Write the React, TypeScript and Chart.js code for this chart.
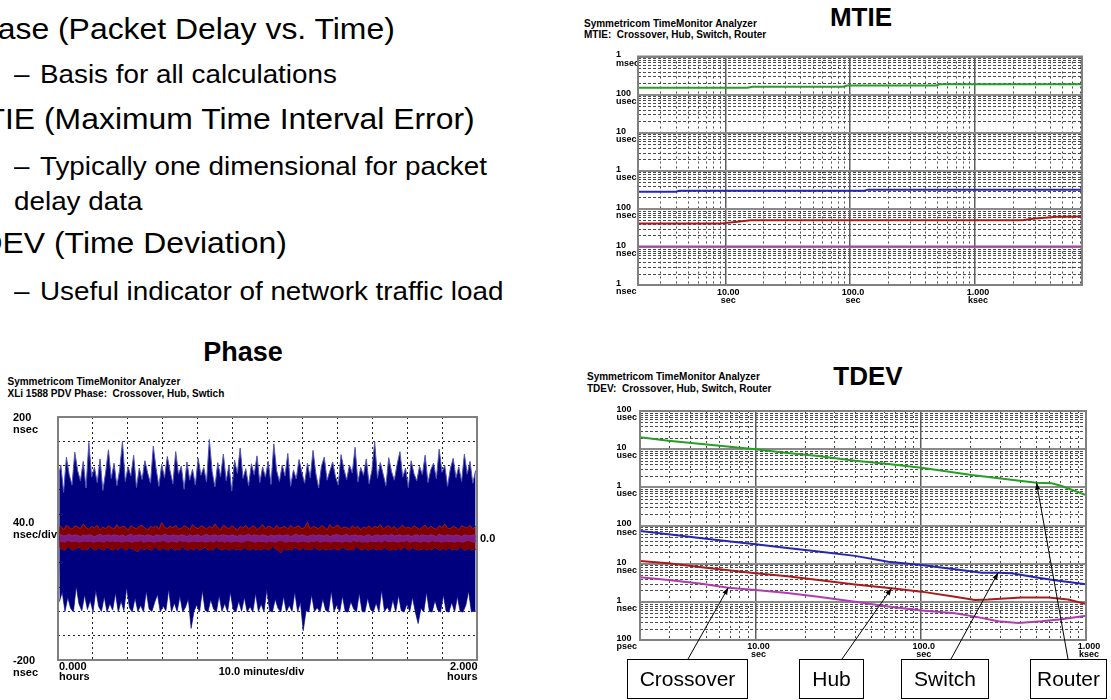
import React, { useEffect, useRef } from "react";
import { Chart, registerables } from "chart.js";

Chart.register(...registerables);

const FONT = '"Liberation Sans", Arial, Helvetica, sans-serif';

// ---------- Phase: packet delay vs. time (ns), samples spread evenly over 2 hours ----------
// Each series alternates a local high and a local low sample.
const phaseSpanMinutes = 120;
const phaseMinutesPerDiv = 10;
const phaseNsPerDiv = 40;
const phaseRangeNs = 200;

const phaseSwitchNs = [
  98, -104, 121, -88, 76, -120, 134, -97, 105, -115, 88, -121, 142, -79, 112, -108, 95, -119, 127, -93,
  83, -117, 158, -102, 101, -121, 117, -85, 92, -112, 131, -120, 79, -96, 109, -121, 146, -107, 99, -118,
  124, -90, 87, -121, 113, -103, 160, -119, 94, -81, 118, -114, 103, -121, 137, -98, 84, -120, 116, -110,
  97, -121, 128, -87, 108, -116, 91, -120, 152, -105, 115, -92, 86, -121, 122, -111, 100, -119, 135, -84,
  111, -121, 90, -106, 143, -120, 106, -95, 119, -121, 81, -113, 126, -99, 96, -148, 114, -120, 88, -109,
  132, -121, 104, -86, 117, -118, 93, -121, 163, -101, 110, -116, 85, -121, 125, -94, 102, -120, 139, -107,
  95, -121, 120, -89, 78, -117, 129, -121, 107, -103, 149, -120, 99, -97, 115, -121, 87, -112, 123, -121,
  105, -91, 136, -120, 92, -108, 118, -121, 101, -84, 127, -119, 89, -121, 156, -100, 112, -115, 94, -121,
  121, -96, 103, -121, 140, -110, 86, -120, 113, -88, 98, -121, 130, -105, 109, -152, 91, -119, 124, -121,
  100, -93, 145, -120, 107, -114, 83, -121, 119, -99, 134, -118, 96, -121, 111, -87, 126, -120, 102, -109,
  88, -121, 138, -95, 114, -120, 97, -121, 121, -104, 108, -116, 150, -121, 93, -90, 117, -120, 104, -121,
  131, -98, 90, -117, 112, -121, 159, -106, 99, -121, 125, -85, 106, -120, 87, -113, 133, -121, 110, -101,
  96, -121, 122, -94, 143, -119, 101, -121, 116, -108, 84, -120, 128, -97, 107, -121, 95, -140, 119, -115,
  105, -121, 137, -89, 92, -120, 113, -121, 124, -102, 98, -118, 147, -121, 109, -93, 120, -120, 86, -121,
  115, -105, 132, -121, 100, -96, 118, -120, 94, -121, 139, -110, 106, -87, 127, -121, 91, -119, 112, -121,
];

const phaseHubNs = [
  17, -15, 20, -18, 14, -19, 22, -13, 18, -17, 15, -19, 21, -16, 19, -14, 16, -19, 24, -17,
  18, -19, 15, -12, 20, -18, 17, -19, 22, -15, 14, -18, 19, -19, 16, -14, 21, -17, 18, -19,
  15, -16, 23, -19, 17, -13, 20, -18, 19, -19, 13, -15, 21, -17, 18, -19, 16, -22, 20, -14,
  22, -19, 17, -16, 14, -18, 20, -19, 18, -13, 21, -17, 15, -19, 26, -15, 19, -18, 16, -19,
  20, -14, 18, -19, 22, -17, 15, -19, 17, -12, 21, -18, 19, -19, 14, -16, 23, -19, 18, -15,
  16, -19, 21, -17, 19, -14, 15, -19, 20, -18, 17, -19, 24, -13, 18, -17, 14, -19, 22, -16,
  19, -18, 16, -19, 21, -15, 18, -19, 13, -17, 20, -19, 17, -14, 22, -18, 15, -19, 19, -16,
  21, -19, 14, -17, 18, -19, 23, -15, 16, -18, 20, -19, 19, -13, 15, -17, 22, -19, 17, -24,
  18, -16, 20, -19, 15, -18, 22, -19, 17, -14, 19, -17, 21, -19, 16, -15, 18, -19, 27, -17,
  15, -19, 20, -13, 18, -18, 16, -19, 21, -16, 19, -19, 14, -17, 23, -19, 17, -15, 20, -18,
  22, -19, 16, -14, 19, -17, 18, -19, 15, -18, 21, -19, 17, -13, 20, -17, 14, -19, 19, -16,
  17, -19, 21, -18, 16, -15, 20, -19, 18, -17, 23, -19, 15, -14, 19, -18, 21, -19, 16, -17,
  20, -19, 14, -16, 18, -19, 22, -13, 17, -18, 19, -19, 16, -15, 21, -17, 18, -19, 15, -18,
  19, -16, 22, -19, 16, -17, 20, -19, 17, -14, 15, -18, 21, -19, 18, -16, 24, -19, 17, -15,
  16, -19, 20, -17, 18, -19, 14, -13, 21, -18, 19, -19, 17, -16, 22, -19, 15, -17, 20, -19,
];

const phaseCrossoverNs = [
  5, -4, 6, -5, 4, -6, 5, -3, 7, -5, 4, -5, 6, -4, 5, -6, 3, -5, 6, -4,
  4, -5, 6, -4, 5, -6, 3, -5, 5, -4, 7, -5, 4, -6, 5, -3, 6, -5, 4, -4,
  6, -5, 5, -4, 4, -6, 6, -5, 3, -4, 5, -5, 7, -6, 4, -4, 5, -5, 6, -3,
  5, -6, 4, -5, 6, -4, 5, -5, 3, -6, 6, -4, 5, -5, 4, -3, 7, -5, 5, -6,
  4, -4, 6, -5, 5, -6, 4, -3, 6, -5, 5, -4, 3, -6, 6, -5, 4, -4, 5, -5,
  6, -5, 3, -4, 5, -6, 7, -5, 4, -4, 5, -6, 6, -3, 4, -5, 5, -4, 6, -6,
  5, -4, 4, -6, 6, -5, 5, -4, 3, -5, 6, -6, 4, -5, 5, -3, 7, -4, 4, -5,
  6, -6, 5, -4, 4, -5, 6, -5, 5, -6, 3, -4, 6, -5, 4, -6, 5, -4, 6, -3,
  4, -5, 5, -6, 6, -4, 3, -5, 5, -4, 7, -6, 4, -5, 6, -4, 5, -5, 3, -6,
  5, -4, 6, -5, 4, -3, 6, -6, 5, -5, 4, -4, 6, -5, 3, -6, 5, -4, 6, -5,
  6, -5, 4, -6, 5, -4, 7, -5, 4, -6, 5, -3, 6, -5, 4, -4, 5, -6, 3, -5,
  5, -6, 6, -4, 3, -5, 5, -5, 6, -4, 4, -6, 5, -3, 6, -5, 4, -5, 7, -4,
  4, -5, 5, -6, 6, -4, 4, -5, 5, -3, 6, -6, 3, -5, 5, -4, 6, -5, 4, -6,
  6, -4, 5, -5, 4, -6, 6, -3, 5, -5, 3, -4, 7, -6, 5, -5, 4, -4, 6, -5,
  5, -5, 4, -6, 6, -4, 5, -5, 3, -6, 6, -4, 5, -3, 4, -5, 6, -6, 5, -4,
];

const phaseYLabels = [["200", "nsec"], ["40.0", "nsec/div"], ["-200", "nsec"]];
const phaseXLabels = [["0.000", "hours"], ["10.0 minutes/div"], ["2.000", "hours"]];
const phaseRightLabel = "0.0";

// ---------- MTIE (tau in seconds, MTIE in ns) ----------
const mtieRouterTau = [2, 15, 16.5, 88, 95, 490, 520, 7200];
const mtieRouterNs = [152000, 152000, 161000, 161000, 174000, 174000, 186000, 186000];
const mtieSwitchTau = [2, 4, 4.3, 130, 140, 7200];
const mtieSwitchNs = [283, 283, 300, 300, 319, 319];
const mtieHubTau = [2, 9, 12, 16, 2400, 2900, 4500, 7200];
const mtieHubNs = [40.9, 40.9, 45, 50.5, 50.5, 55, 62, 63];
const mtieCrossoverTau = [2, 7200];
const mtieCrossoverNs = [10.2, 10.2];

const mtieTauRange = [2, 7200];
const mtieNsRange = [1, 1e6];
const mtieYTicks = [1, 10, 100, 1e3, 1e4, 1e5, 1e6];
const mtieYLabels = [
  ["1", "nsec"], ["10", "nsec"], ["100", "nsec"], ["1", "usec"], ["10", "usec"], ["100", "usec"], ["1", "msec"],
];

// ---------- TDEV (tau in seconds, TDEV in ns) ----------
const tdevRouterTau = [2, 2.97, 4.73, 7.51, 10, 15.1, 24, 40, 63.6, 101, 203, 408, 502, 620, 712, 1000];
const tdevRouterNs = [20500, 16700, 13600, 11200, 9900, 8070, 6620, 5000, 4090, 3270, 2100, 1470, 1320, 1280, 1080, 630];
const tdevSwitchTau = [2, 2.97, 4.73, 7.51, 10, 15.1, 24, 40, 63.6, 101, 161, 234, 294, 355, 514, 648, 1000];
const tdevSwitchNs = [71.8, 58.8, 46.2, 37, 32.2, 26.3, 20.7, 16, 11.3, 9.2, 7.1, 5.8, 5.8, 5.6, 4.3, 3.7, 2.9];
const tdevHubTau = [2, 2.97, 4.73, 7.51, 10, 15.1, 24, 40, 66.6, 101, 161, 213, 256, 408, 590, 780, 1000];
const tdevHubNs = [11.8, 10.2, 8.0, 6.4, 5.6, 4.75, 3.73, 2.85, 2.26, 1.85, 1.36, 1.12, 1.15, 1.29, 1.29, 1.15, 0.88];
const tdevCrossoverTau = [2, 2.97, 4.73, 6.84, 10, 15.1, 24, 40, 63.6, 101, 161, 213, 294, 389, 538, 711, 1000];
const tdevCrossoverNs = [4.4, 3.73, 2.99, 2.35, 2.04, 1.74, 1.36, 1.0, 0.75, 0.59, 0.5, 0.41, 0.31, 0.28, 0.31, 0.35, 0.43];

const tdevTauRange = [2, 1000];
const tdevNsRange = [0.1, 1e5];
const tdevYTicks = [0.1, 1, 10, 100, 1e3, 1e4, 1e5];
const tdevYLabels = [
  ["100", "psec"], ["1", "nsec"], ["10", "nsec"], ["100", "nsec"], ["1", "usec"], ["10", "usec"], ["100", "usec"],
];

const logXTicks = [10, 100, 1000];
const logXLabels = [["10.00", "sec"], ["100.0", "sec"], ["1.000", "ksec"]];

const seriesColors: Record<string, string> = {
  Router: "#25a025",
  Switch: "#2626b2",
  Hub: "#a81c1c",
  Crossover: "#b03db0",
};

// Callout boxes under the TDEV plot (canvas pixels), each pointing at one point of a series
const tdevCallouts = [
  { label: "Crossover", series: "Crossover", point: 3, box: [47, 299, 168, 339], fromX: 108 },
  { label: "Hub", series: "Hub", point: 8, box: [219, 299, 284, 339], fromX: 262 },
  { label: "Switch", series: "Switch", point: 12, box: [321, 299, 409, 339], fromX: 371 },
  { label: "Router", series: "Router", point: 12, box: [450, 299, 527, 339], fromX: 488 },
];

const outline = [
  { lead: "Phase", text: "(Packet Delay vs. Time)", x: 58, baseline: 39.5 },
  { dash: true, text: "Basis for all calculations", x: 40, baseline: 83.5 },
  { lead: "MTIE", text: "(Maximum Time Interval Error)", x: 44, baseline: 130 },
  { dash: true, text: "Typically one dimensional for packet", x: 40, baseline: 175.5 },
  { text: "delay data", x: 14, baseline: 210 },
  { lead: "TDEV", text: "(Time Deviation)", x: 54, baseline: 254 },
  { dash: true, text: "Useful indicator of network traffic load", x: 40, baseline: 300 },
];

// ---------- plugins ----------
const framePlugin = {
  id: "frame",
  afterDraw(chart: any, _args: any, opts: any) {
    const { ctx, chartArea: a } = chart;
    ctx.save();
    ctx.strokeStyle = opts.color || "#7f7f7f";
    ctx.lineWidth = opts.width || 2;
    ctx.strokeRect(a.left, a.top, a.right - a.left, a.bottom - a.top);
    ctx.restore();
  },
};

function minorValues(min: number, max: number) {
  const out: number[] = [];
  for (let e = Math.floor(Math.log10(min)); e <= Math.ceil(Math.log10(max)); e++) {
    for (let k = 2; k <= 9; k++) {
      const v = k * Math.pow(10, e);
      if (v > min * 1.0001 && v < max * 0.9999) out.push(v);
    }
  }
  return out;
}

const minorLogGridPlugin = {
  id: "minorLogGrid",
  beforeDraw(chart: any) {
    const { ctx, chartArea: a, scales } = chart;
    const xs = scales.x;
    const ys = scales.y;
    ctx.save();
    ctx.beginPath();
    ctx.rect(a.left, a.top, a.right - a.left, a.bottom - a.top);
    ctx.clip();
    ctx.strokeStyle = "#4a4a4a";
    ctx.lineWidth = 1;
    ctx.setLineDash([2, 3]);
    for (const v of minorValues(xs.min, xs.max)) {
      const px = Math.round(xs.getPixelForValue(v)) + 0.5;
      ctx.beginPath();
      ctx.moveTo(px, a.top);
      ctx.lineTo(px, a.bottom);
      ctx.stroke();
    }
    ctx.setLineDash([3, 2]);
    for (const v of minorValues(ys.min, ys.max)) {
      const py = Math.round(ys.getPixelForValue(v)) + 0.5;
      ctx.beginPath();
      ctx.moveTo(a.left, py);
      ctx.lineTo(a.right, py);
      ctx.stroke();
    }
    ctx.restore();
  },
};

const phaseTextPlugin = {
  id: "phaseText",
  afterDraw(chart: any) {
    const { ctx, chartArea: a, scales } = chart;
    const xs = scales.x;
    const ys = scales.y;
    const top = ys.getPixelForValue(phaseRangeNs);
    const mid = ys.getPixelForValue(0);
    const bot = ys.getPixelForValue(-phaseRangeNs);
    ctx.save();
    ctx.fillStyle = "#000";
    ctx.font = `bold 11px ${FONT}`;
    ctx.textBaseline = "middle";
    ctx.textAlign = "left";
    const lx = 13;
    ctx.fillText(phaseYLabels[0][0], lx, top + 1);
    ctx.fillText(phaseYLabels[0][1], lx, top + 12.5);
    ctx.fillText(phaseYLabels[1][0], lx, mid - 15.5);
    ctx.fillText(phaseYLabels[1][1], lx, mid - 3.5);
    ctx.fillText(phaseYLabels[2][0], lx, bot + 1);
    ctx.fillText(phaseYLabels[2][1], lx, bot + 13);
    ctx.fillText(phaseRightLabel, a.right + 3, mid);

    const x0 = xs.getPixelForValue(0);
    const xMid = xs.getPixelForValue(phaseSpanMinutes / 2);
    const x1 = xs.getPixelForValue(phaseSpanMinutes);
    ctx.fillText(phaseXLabels[0][0], x0 + 1, a.bottom + 7);
    ctx.fillText(phaseXLabels[0][1], x0 + 1, a.bottom + 17);
    ctx.textAlign = "center";
    ctx.fillText(phaseXLabels[1][0], xMid - 6, a.bottom + 12);
    ctx.textAlign = "right";
    ctx.fillText(phaseXLabels[2][0], x1 + 0.5, a.bottom + 7);
    ctx.fillText(phaseXLabels[2][1], x1 + 0.5, a.bottom + 17);
    ctx.restore();
  },
};

const calloutPlugin = {
  id: "callouts",
  afterDraw(chart: any, _args: any, opts: any) {
    const { ctx, scales } = chart;
    const xs = scales.x;
    const ys = scales.y;
    ctx.save();
    for (const c of opts.items || []) {
      const ds = chart.data.datasets.find((d: any) => d.label === c.series);
      if (!ds) continue;
      const pt = ds.data[c.point];
      const tx = xs.getPixelForValue(pt.x);
      const ty = ys.getPixelForValue(pt.y);
      const [bx0, by0, bx1, by1] = c.box;
      const fx = c.fromX;
      const fy = by0;
      ctx.strokeStyle = "#000";
      ctx.lineWidth = 1;
      ctx.setLineDash([]);
      ctx.beginPath();
      ctx.moveTo(fx, fy);
      ctx.lineTo(tx, ty);
      ctx.stroke();
      const ang = Math.atan2(ty - fy, tx - fx);
      const len = 7;
      const half = 2.6;
      ctx.fillStyle = "#000";
      ctx.beginPath();
      ctx.moveTo(tx, ty);
      ctx.lineTo(tx - len * Math.cos(ang) + half * Math.sin(ang), ty - len * Math.sin(ang) - half * Math.cos(ang));
      ctx.lineTo(tx - len * Math.cos(ang) - half * Math.sin(ang), ty - len * Math.sin(ang) + half * Math.cos(ang));
      ctx.closePath();
      ctx.fill();
      ctx.fillStyle = "#fff";
      ctx.fillRect(bx0, by0, bx1 - bx0, by1 - by0);
      ctx.strokeRect(bx0 + 0.5, by0 + 0.5, bx1 - bx0 - 1, by1 - by0 - 1);
      ctx.fillStyle = "#000";
      ctx.font = `21px ${FONT}`;
      ctx.textAlign = "center";
      ctx.textBaseline = "middle";
      ctx.fillText(c.label, (bx0 + bx1) / 2, (by0 + by1) / 2 + 1);
    }
    ctx.restore();
  },
};

// ---------- config builders ----------
const toPhasePoints = (values: number[]) =>
  values.map((v, i) => ({ x: (i * phaseSpanMinutes) / (values.length - 1), y: v }));

function phaseConfig(): any {
  // each series is drawn as the band between its high samples and its low samples
  const band = (label: string, values: number[], fillColor: string, edgeColor: string) => {
    const pts = toPhasePoints(values);
    const common = {
      borderColor: edgeColor,
      borderWidth: 1,
      borderJoinStyle: "bevel",
      pointRadius: 0,
      tension: 0,
    };
    return [
      { ...common, label: label + " high", data: pts.filter((_, i) => i % 2 === 0), fill: "+1", backgroundColor: fillColor },
      { ...common, label: label + " low", data: pts.filter((_, i) => i % 2 === 1), fill: false },
    ];
  };
  const dotted = { display: false, dash: [2, 3] };
  return {
    type: "line",
    data: {
      datasets: [
        ...band("Crossover", phaseCrossoverNs, "#7e1a80", "#8a2a8c"),
        ...band("Hub", phaseHubNs, "#800000", "#952020"),
        ...band("Switch", phaseSwitchNs, "#00007f", "#5454b4"),
      ],
    },
    options: {
      animation: false,
      responsive: false,
      devicePixelRatio: 1,
      events: [],
      layout: { padding: { left: 58, top: 17, right: 68, bottom: 40 } },
      plugins: {
        legend: { display: false },
        tooltip: { enabled: false },
        frame: { color: "#808080", width: 2 },
      },
      scales: {
        x: {
          type: "linear",
          min: 0,
          max: phaseSpanMinutes,
          ticks: { display: false, stepSize: phaseMinutesPerDiv },
          grid: { color: "#222", lineWidth: 1, drawTicks: false },
          border: dotted,
        },
        y: {
          type: "linear",
          min: -phaseRangeNs,
          max: phaseRangeNs,
          ticks: { display: false, stepSize: phaseNsPerDiv },
          grid: { color: "#222", lineWidth: 1, drawTicks: false },
          border: dotted,
        },
      },
    },
    plugins: [framePlugin, phaseTextPlugin],
  };
}

type LogSeries = { label: string; tau: number[]; ns: number[] };

function logConfig(o: {
  series: LogSeries[];
  tauRange: number[];
  nsRange: number[];
  yTicks: number[];
  yLabels: string[][];
  padding: { left: number; top: number; right: number; bottom: number };
  yAxisWidth: number;
  xAxisHeight: number;
  xLabelPad: number;
  extraPlugins?: any[];
  pluginOptions?: any;
}): any {
  const tickFont = { family: FONT, size: 9, weight: "bold", lineHeight: 0.9 };
  return {
    type: "line",
    data: {
      datasets: o.series.map((s) => ({
        label: s.label,
        data: s.tau.map((t, i) => ({ x: t, y: s.ns[i] })),
        borderColor: seriesColors[s.label],
        borderWidth: 2,
        pointRadius: 0,
        tension: 0,
        fill: false,
      })),
    },
    options: {
      animation: false,
      responsive: false,
      devicePixelRatio: 1,
      events: [],
      layout: { padding: o.padding },
      plugins: {
        legend: { display: false },
        tooltip: { enabled: false },
        frame: { color: "#808080", width: 2 },
        ...(o.pluginOptions || {}),
      },
      scales: {
        x: {
          type: "logarithmic",
          min: o.tauRange[0],
          max: o.tauRange[1],
          afterBuildTicks: (ax: any) => {
            ax.ticks = logXTicks.map((v) => ({ value: v }));
          },
          afterFit: (ax: any) => {
            ax.height = o.xAxisHeight;
          },
          grid: { color: "#5e5e5e", lineWidth: 1.5, drawTicks: false },
          border: { display: false },
          ticks: {
            autoSkip: false,
            maxRotation: 0,
            padding: o.xLabelPad,
            labelOffset: 3,
            color: "#000",
            font: tickFont,
            callback: (_v: any, i: number) => logXLabels[i],
          },
        },
        y: {
          type: "logarithmic",
          position: "left",
          min: o.nsRange[0],
          max: o.nsRange[1],
          afterBuildTicks: (ax: any) => {
            ax.ticks = o.yTicks.map((v) => ({ value: v }));
          },
          afterFit: (ax: any) => {
            ax.width = o.yAxisWidth;
          },
          grid: { color: "#8a8a8a", lineWidth: 2, drawTicks: false },
          border: { display: false },
          ticks: {
            autoSkip: false,
            crossAlign: "far",
            padding: 0,
            labelOffset: 2.5,
            color: "#000",
            font: tickFont,
            callback: (_v: any, i: number) => o.yLabels[i],
          },
        },
      },
    },
    plugins: [minorLogGridPlugin, framePlugin, ...(o.extraPlugins || [])],
  };
}

function mtieConfig() {
  return logConfig({
    series: [
      { label: "Router", tau: mtieRouterTau, ns: mtieRouterNs },
      { label: "Switch", tau: mtieSwitchTau, ns: mtieSwitchNs },
      { label: "Hub", tau: mtieHubTau, ns: mtieHubNs },
      { label: "Crossover", tau: mtieCrossoverTau, ns: mtieCrossoverNs },
    ],
    tauRange: mtieTauRange,
    nsRange: mtieNsRange,
    yTicks: mtieYTicks,
    yLabels: mtieYLabels,
    padding: { left: 36, top: 56.5, right: 29, bottom: 15 },
    yAxisWidth: 22,
    xAxisHeight: 20,
    xLabelPad: 3,
  });
}

function tdevConfig() {
  return logConfig({
    series: [
      { label: "Router", tau: tdevRouterTau, ns: tdevRouterNs },
      { label: "Switch", tau: tdevSwitchTau, ns: tdevSwitchNs },
      { label: "Hub", tau: tdevHubTau, ns: tdevHubNs },
      { label: "Crossover", tau: tdevCrossoverTau, ns: tdevCrossoverNs },
    ],
    tauRange: tdevTauRange,
    nsRange: tdevNsRange,
    yTicks: tdevYTicks,
    yLabels: tdevYLabels,
    padding: { left: 36.5, top: 51, right: 25, bottom: 40 },
    yAxisWidth: 23.5,
    xAxisHeight: 20,
    xLabelPad: 2.5,
    extraPlugins: [calloutPlugin],
    pluginOptions: { callouts: { items: tdevCallouts } },
  });
}

// ---------- components ----------
function ChartCanvas(props: { make: () => any; left: number; top: number; width: number; height: number }) {
  const ref = useRef<HTMLCanvasElement>(null);
  useEffect(() => {
    const chart = new Chart(ref.current as HTMLCanvasElement, props.make());
    return () => chart.destroy();
  }, []);
  return (
    <canvas
      ref={ref}
      width={props.width}
      height={props.height}
      style={{ position: "absolute", left: props.left, top: props.top, width: props.width, height: props.height }}
    />
  );
}

function Heading(props: { text: string; cx: number; top: number; size: number }) {
  return (
    <div
      style={{
        position: "absolute",
        left: props.cx,
        top: props.top,
        transform: "translateX(-50%)",
        font: `bold ${props.size}px ${FONT}`,
        lineHeight: `${props.size}px`,
        whiteSpace: "nowrap",
        color: "#000",
      }}
    >
      {props.text}
    </div>
  );
}

function Caption(props: { lines: string[]; left: number; top: number; lh: number }) {
  return (
    <div
      style={{
        position: "absolute",
        left: props.left,
        top: props.top,
        font: `bold 10px ${FONT}`,
        lineHeight: `${props.lh}px`,
        whiteSpace: "pre",
        color: "#000",
      }}
    >
      {props.lines.join("\n")}
    </div>
  );
}

function Outline() {
  return (
    <>
      {outline.map((it, i) => {
        const isMain = !!it.lead;
        const size = isMain ? 29 : 26;
        const stretch = isMain ? 1.1 : 1.07;
        const top = it.baseline - 0.8465 * size;
        const base = {
          position: "absolute" as const,
          top,
          font: `${size}px ${FONT}`,
          lineHeight: `${size}px`,
          whiteSpace: "pre" as const,
          transform: `scaleX(${stretch})`,
          transformOrigin: "left",
          color: "#000",
        };
        return (
          <React.Fragment key={i}>
            {it.dash && <div style={{ ...base, left: 14 }}>–</div>}
            <div style={{ ...base, left: it.x }}>
              {it.lead && (
                <span style={{ position: "absolute", right: "100%", top: 0, whiteSpace: "pre" }}>{it.lead + " "}</span>
              )}
              {it.text}
            </div>
          </React.Fragment>
        );
      })}
    </>
  );
}

export default function App() {
  return (
    <div
      style={{
        position: "fixed",
        left: 0,
        top: 0,
        width: 1111,
        height: 700,
        overflow: "hidden",
        background: "#fff",
        fontFamily: FONT,
      }}
    >
      <Outline />

      <Heading text="Phase" cx={243} top={338.5} size={27} />
      <Caption
        lines={["Symmetricom TimeMonitor Analyzer", "XLi 1588 PDV Phase:  Crossover, Hub, Swtich"]}
        left={7.5}
        top={376}
        lh={11.6}
      />
      <ChartCanvas make={phaseConfig} left={0} top={400} width={545} height={300} />

      <Heading text="MTIE" cx={861} top={4} size={26} />
      <Caption lines={["Symmetricom TimeMonitor Analyzer", "MTIE:  Crossover, Hub, Switch, Router"]} left={584} top={17.5} lh={11} />
      <ChartCanvas make={mtieConfig} left={580} top={0} width={531} height={320} />

      <Heading text="TDEV" cx={868} top={363} size={26} />
      <Caption lines={["Symmetricom TimeMonitor Analyzer", "TDEV:  Crossover, Hub, Switch, Router"]} left={587} top={371} lh={11.6} />
      <ChartCanvas make={tdevConfig} left={580} top={360} width={531} height={340} />
    </div>
  );
}
